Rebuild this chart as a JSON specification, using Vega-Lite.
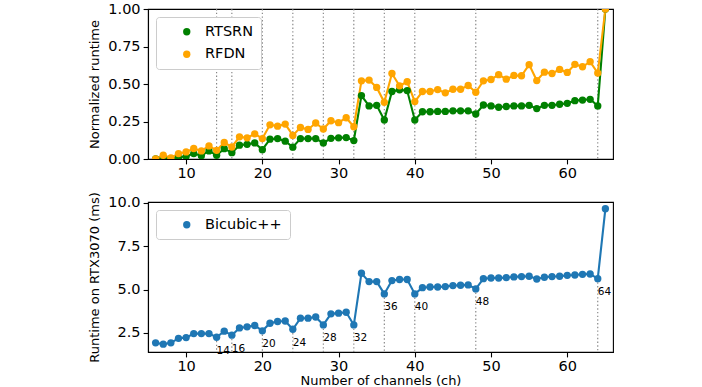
{
  "$schema": "https://vega.github.io/schema/vega-lite/v6.json",
  "padding": {"left": 88, "top": 0, "right": 0, "bottom": 0},
  "background": "white",
  "config": {
    "font": "DejaVu Sans",
    "view": {"stroke": "black", "strokeWidth": 1.1},
    "axis": {
      "grid": false,
      "domainColor": "black",
      "domainWidth": 1.1,
      "tickColor": "black",
      "tickWidth": 1.1,
      "tickSize": 4.9,
      "labelFont": "DejaVu Sans",
      "labelFontSize": 14.5,
      "labelColor": "black",
      "labelPadding": 3,
      "labelOverlap": false,
      "titleFont": "DejaVu Sans",
      "titleFontSize": 13,
      "titleFontWeight": "normal",
      "titleColor": "black",
      "titleLimit": 600
    },
    "legend": {
      "labelFont": "DejaVu Sans",
      "labelFontSize": 14.5,
      "labelColor": "black",
      "fillColor": "white",
      "strokeColor": "#cccccc",
      "cornerRadius": 3,
      "padding": 7.5,
      "symbolType": "circle",
      "symbolSize": 54,
      "symbolStrokeWidth": 0,
      "symbolOffset": 16,
      "labelOffset": 11,
      "rowPadding": 7.5
    }
  },
  "datasets": {
    "marks": [{"ch": 14}, {"ch": 16}, {"ch": 20}, {"ch": 24}, {"ch": 28}, {"ch": 32}, {"ch": 36}, {"ch": 40}, {"ch": 48}, {"ch": 64}],
    "top": [
      {"ch": 6, "model": "RTSRN", "runtime": 0.0},
      {"ch": 7, "model": "RTSRN", "runtime": 0.003},
      {"ch": 8, "model": "RTSRN", "runtime": 0.0},
      {"ch": 9, "model": "RTSRN", "runtime": 0.01},
      {"ch": 10, "model": "RTSRN", "runtime": 0.018},
      {"ch": 11, "model": "RTSRN", "runtime": 0.036},
      {"ch": 12, "model": "RTSRN", "runtime": 0.022},
      {"ch": 13, "model": "RTSRN", "runtime": 0.054},
      {"ch": 14, "model": "RTSRN", "runtime": 0.025},
      {"ch": 15, "model": "RTSRN", "runtime": 0.069},
      {"ch": 16, "model": "RTSRN", "runtime": 0.042},
      {"ch": 17, "model": "RTSRN", "runtime": 0.092},
      {"ch": 18, "model": "RTSRN", "runtime": 0.098},
      {"ch": 19, "model": "RTSRN", "runtime": 0.107},
      {"ch": 20, "model": "RTSRN", "runtime": 0.062},
      {"ch": 21, "model": "RTSRN", "runtime": 0.132},
      {"ch": 22, "model": "RTSRN", "runtime": 0.136},
      {"ch": 23, "model": "RTSRN", "runtime": 0.119},
      {"ch": 24, "model": "RTSRN", "runtime": 0.079},
      {"ch": 25, "model": "RTSRN", "runtime": 0.136},
      {"ch": 26, "model": "RTSRN", "runtime": 0.136},
      {"ch": 27, "model": "RTSRN", "runtime": 0.136},
      {"ch": 28, "model": "RTSRN", "runtime": 0.107},
      {"ch": 29, "model": "RTSRN", "runtime": 0.138},
      {"ch": 30, "model": "RTSRN", "runtime": 0.141},
      {"ch": 31, "model": "RTSRN", "runtime": 0.143},
      {"ch": 32, "model": "RTSRN", "runtime": 0.123},
      {"ch": 33, "model": "RTSRN", "runtime": 0.423},
      {"ch": 34, "model": "RTSRN", "runtime": 0.354},
      {"ch": 35, "model": "RTSRN", "runtime": 0.358},
      {"ch": 36, "model": "RTSRN", "runtime": 0.26},
      {"ch": 37, "model": "RTSRN", "runtime": 0.45},
      {"ch": 38, "model": "RTSRN", "runtime": 0.461},
      {"ch": 39, "model": "RTSRN", "runtime": 0.456},
      {"ch": 40, "model": "RTSRN", "runtime": 0.26},
      {"ch": 41, "model": "RTSRN", "runtime": 0.315},
      {"ch": 42, "model": "RTSRN", "runtime": 0.315},
      {"ch": 43, "model": "RTSRN", "runtime": 0.317},
      {"ch": 44, "model": "RTSRN", "runtime": 0.317},
      {"ch": 45, "model": "RTSRN", "runtime": 0.321},
      {"ch": 46, "model": "RTSRN", "runtime": 0.321},
      {"ch": 47, "model": "RTSRN", "runtime": 0.321},
      {"ch": 48, "model": "RTSRN", "runtime": 0.3},
      {"ch": 49, "model": "RTSRN", "runtime": 0.36},
      {"ch": 50, "model": "RTSRN", "runtime": 0.354},
      {"ch": 51, "model": "RTSRN", "runtime": 0.345},
      {"ch": 52, "model": "RTSRN", "runtime": 0.35},
      {"ch": 53, "model": "RTSRN", "runtime": 0.354},
      {"ch": 54, "model": "RTSRN", "runtime": 0.354},
      {"ch": 55, "model": "RTSRN", "runtime": 0.358},
      {"ch": 56, "model": "RTSRN", "runtime": 0.336},
      {"ch": 57, "model": "RTSRN", "runtime": 0.358},
      {"ch": 58, "model": "RTSRN", "runtime": 0.358},
      {"ch": 59, "model": "RTSRN", "runtime": 0.365},
      {"ch": 60, "model": "RTSRN", "runtime": 0.371},
      {"ch": 61, "model": "RTSRN", "runtime": 0.389},
      {"ch": 62, "model": "RTSRN", "runtime": 0.393},
      {"ch": 63, "model": "RTSRN", "runtime": 0.398},
      {"ch": 64, "model": "RTSRN", "runtime": 0.354},
      {"ch": 65, "model": "RTSRN", "runtime": 1.0},
      {"ch": 6, "model": "RFDN", "runtime": 0.0},
      {"ch": 7, "model": "RFDN", "runtime": 0.025},
      {"ch": 8, "model": "RFDN", "runtime": 0.007},
      {"ch": 9, "model": "RFDN", "runtime": 0.036},
      {"ch": 10, "model": "RFDN", "runtime": 0.047},
      {"ch": 11, "model": "RFDN", "runtime": 0.07},
      {"ch": 12, "model": "RFDN", "runtime": 0.054},
      {"ch": 13, "model": "RFDN", "runtime": 0.087},
      {"ch": 14, "model": "RFDN", "runtime": 0.058},
      {"ch": 15, "model": "RFDN", "runtime": 0.11},
      {"ch": 16, "model": "RFDN", "runtime": 0.08},
      {"ch": 17, "model": "RFDN", "runtime": 0.148},
      {"ch": 18, "model": "RFDN", "runtime": 0.141},
      {"ch": 19, "model": "RFDN", "runtime": 0.168},
      {"ch": 20, "model": "RFDN", "runtime": 0.136},
      {"ch": 21, "model": "RFDN", "runtime": 0.228},
      {"ch": 22, "model": "RFDN", "runtime": 0.219},
      {"ch": 23, "model": "RFDN", "runtime": 0.233},
      {"ch": 24, "model": "RFDN", "runtime": 0.157},
      {"ch": 25, "model": "RFDN", "runtime": 0.21},
      {"ch": 26, "model": "RFDN", "runtime": 0.197},
      {"ch": 27, "model": "RFDN", "runtime": 0.24},
      {"ch": 28, "model": "RFDN", "runtime": 0.2},
      {"ch": 29, "model": "RFDN", "runtime": 0.255},
      {"ch": 30, "model": "RFDN", "runtime": 0.242},
      {"ch": 31, "model": "RFDN", "runtime": 0.275},
      {"ch": 32, "model": "RFDN", "runtime": 0.215},
      {"ch": 33, "model": "RFDN", "runtime": 0.521},
      {"ch": 34, "model": "RFDN", "runtime": 0.526},
      {"ch": 35, "model": "RFDN", "runtime": 0.477},
      {"ch": 36, "model": "RFDN", "runtime": 0.378},
      {"ch": 37, "model": "RFDN", "runtime": 0.57},
      {"ch": 38, "model": "RFDN", "runtime": 0.488},
      {"ch": 39, "model": "RFDN", "runtime": 0.515},
      {"ch": 40, "model": "RFDN", "runtime": 0.383},
      {"ch": 41, "model": "RFDN", "runtime": 0.45},
      {"ch": 42, "model": "RFDN", "runtime": 0.45},
      {"ch": 43, "model": "RFDN", "runtime": 0.463},
      {"ch": 44, "model": "RFDN", "runtime": 0.441},
      {"ch": 45, "model": "RFDN", "runtime": 0.465},
      {"ch": 46, "model": "RFDN", "runtime": 0.465},
      {"ch": 47, "model": "RFDN", "runtime": 0.49},
      {"ch": 48, "model": "RFDN", "runtime": 0.445},
      {"ch": 49, "model": "RFDN", "runtime": 0.521},
      {"ch": 50, "model": "RFDN", "runtime": 0.53},
      {"ch": 51, "model": "RFDN", "runtime": 0.562},
      {"ch": 52, "model": "RFDN", "runtime": 0.532},
      {"ch": 53, "model": "RFDN", "runtime": 0.557},
      {"ch": 54, "model": "RFDN", "runtime": 0.555},
      {"ch": 55, "model": "RFDN", "runtime": 0.629},
      {"ch": 56, "model": "RFDN", "runtime": 0.523},
      {"ch": 57, "model": "RFDN", "runtime": 0.579},
      {"ch": 58, "model": "RFDN", "runtime": 0.57},
      {"ch": 59, "model": "RFDN", "runtime": 0.597},
      {"ch": 60, "model": "RFDN", "runtime": 0.577},
      {"ch": 61, "model": "RFDN", "runtime": 0.631},
      {"ch": 62, "model": "RFDN", "runtime": 0.615},
      {"ch": 63, "model": "RFDN", "runtime": 0.649},
      {"ch": 64, "model": "RFDN", "runtime": 0.573},
      {"ch": 65, "model": "RFDN", "runtime": 1.0}
    ],
    "bottom": [
      {"ch": 6, "model": "Bicubic++", "runtime": 1.93}, {"ch": 7, "model": "Bicubic++", "runtime": 1.85},
      {"ch": 8, "model": "Bicubic++", "runtime": 1.93}, {"ch": 9, "model": "Bicubic++", "runtime": 2.19},
      {"ch": 10, "model": "Bicubic++", "runtime": 2.23}, {"ch": 11, "model": "Bicubic++", "runtime": 2.46},
      {"ch": 12, "model": "Bicubic++", "runtime": 2.46}, {"ch": 13, "model": "Bicubic++", "runtime": 2.46},
      {"ch": 14, "model": "Bicubic++", "runtime": 2.25}, {"ch": 15, "model": "Bicubic++", "runtime": 2.6},
      {"ch": 16, "model": "Bicubic++", "runtime": 2.37}, {"ch": 17, "model": "Bicubic++", "runtime": 2.79},
      {"ch": 18, "model": "Bicubic++", "runtime": 2.85}, {"ch": 19, "model": "Bicubic++", "runtime": 2.93},
      {"ch": 20, "model": "Bicubic++", "runtime": 2.62}, {"ch": 21, "model": "Bicubic++", "runtime": 3.06},
      {"ch": 22, "model": "Bicubic++", "runtime": 3.16}, {"ch": 23, "model": "Bicubic++", "runtime": 3.19},
      {"ch": 24, "model": "Bicubic++", "runtime": 2.71}, {"ch": 25, "model": "Bicubic++", "runtime": 3.35},
      {"ch": 26, "model": "Bicubic++", "runtime": 3.35}, {"ch": 27, "model": "Bicubic++", "runtime": 3.42},
      {"ch": 28, "model": "Bicubic++", "runtime": 2.96}, {"ch": 29, "model": "Bicubic++", "runtime": 3.6},
      {"ch": 30, "model": "Bicubic++", "runtime": 3.64}, {"ch": 31, "model": "Bicubic++", "runtime": 3.69},
      {"ch": 32, "model": "Bicubic++", "runtime": 2.96}, {"ch": 33, "model": "Bicubic++", "runtime": 5.94},
      {"ch": 34, "model": "Bicubic++", "runtime": 5.46}, {"ch": 35, "model": "Bicubic++", "runtime": 5.46},
      {"ch": 36, "model": "Bicubic++", "runtime": 4.75}, {"ch": 37, "model": "Bicubic++", "runtime": 5.52},
      {"ch": 38, "model": "Bicubic++", "runtime": 5.58}, {"ch": 39, "model": "Bicubic++", "runtime": 5.58},
      {"ch": 40, "model": "Bicubic++", "runtime": 4.75}, {"ch": 41, "model": "Bicubic++", "runtime": 5.11},
      {"ch": 42, "model": "Bicubic++", "runtime": 5.15}, {"ch": 43, "model": "Bicubic++", "runtime": 5.15},
      {"ch": 44, "model": "Bicubic++", "runtime": 5.17}, {"ch": 45, "model": "Bicubic++", "runtime": 5.23},
      {"ch": 46, "model": "Bicubic++", "runtime": 5.25}, {"ch": 47, "model": "Bicubic++", "runtime": 5.27},
      {"ch": 48, "model": "Bicubic++", "runtime": 5.04}, {"ch": 49, "model": "Bicubic++", "runtime": 5.63},
      {"ch": 50, "model": "Bicubic++", "runtime": 5.67}, {"ch": 51, "model": "Bicubic++", "runtime": 5.67},
      {"ch": 52, "model": "Bicubic++", "runtime": 5.69}, {"ch": 53, "model": "Bicubic++", "runtime": 5.73},
      {"ch": 54, "model": "Bicubic++", "runtime": 5.75}, {"ch": 55, "model": "Bicubic++", "runtime": 5.77},
      {"ch": 56, "model": "Bicubic++", "runtime": 5.61}, {"ch": 57, "model": "Bicubic++", "runtime": 5.71},
      {"ch": 58, "model": "Bicubic++", "runtime": 5.75}, {"ch": 59, "model": "Bicubic++", "runtime": 5.77},
      {"ch": 60, "model": "Bicubic++", "runtime": 5.82}, {"ch": 61, "model": "Bicubic++", "runtime": 5.84},
      {"ch": 62, "model": "Bicubic++", "runtime": 5.88}, {"ch": 63, "model": "Bicubic++", "runtime": 5.9},
      {"ch": 64, "model": "Bicubic++", "runtime": 5.63}, {"ch": 65, "model": "Bicubic++", "runtime": 9.66}
    ]
  },
  "bounds": "flush",
  "spacing": 43,
  "vconcat": [
    {
      "width": 465,
      "height": 150,
      "layer": [
        {
          "data": {"name": "marks"},
          "mark": {"type": "rule", "color": "#808080", "strokeWidth": 1.1, "strokeDash": [1.4, 2.3]},
          "encoding": {
            "x": {"field": "ch", "type": "quantitative", "scale": {"domain": [5, 66], "nice": false, "zero": false},
                  "axis": {"title": null, "values": [10, 20, 30, 40, 50, 60]}}
          }
        },
        {
          "data": {"name": "top"},
          "mark": {"type": "line", "strokeWidth": 2.1, "clip": true},
          "encoding": {
            "x": {"field": "ch", "type": "quantitative"},
            "y": {"field": "runtime", "type": "quantitative", "scale": {"domain": [0, 1], "nice": false},
                  "axis": {"title": "Normalized runtime", "values": [0, 0.25, 0.5, 0.75, 1], "format": ".2f", "labelOverlap": false, "titlePadding": 6}},
            "stroke": {"field": "model", "type": "nominal", "scale": {"domain": ["RFDN", "RTSRN"], "range": ["#ffa500", "#008000"]}, "legend": null}
          }
        },
        {
          "data": {"name": "top"},
          "mark": {"type": "circle", "size": 54, "opacity": 1, "clip": true},
          "encoding": {
            "x": {"field": "ch", "type": "quantitative"},
            "y": {"field": "runtime", "type": "quantitative", "axis": {"title": "Normalized runtime", "values": [0, 0.25, 0.5, 0.75, 1], "format": ".2f", "labelOverlap": false, "titlePadding": 6}},
            "color": {"field": "model", "type": "nominal", "scale": {"domain": ["RTSRN", "RFDN"], "range": ["#008000", "#ffa500"]},
                      "legend": {"title": null, "orient": "top-left", "offset": 7.5}}
          }
        }
      ]
    },
    {
      "width": 465,
      "height": 150,
      "layer": [
        {
          "data": {"name": "bottom"},
          "transform": [{"filter": "indexof([14, 16, 20, 24, 28, 32, 36, 40, 48, 64], datum.ch) >= 0"}],
          "mark": {"type": "rule", "color": "#808080", "strokeWidth": 1.1, "strokeDash": [1.4, 2.3]},
          "encoding": {
            "x": {"field": "ch", "type": "quantitative", "scale": {"domain": [5, 66], "nice": false, "zero": false},
                  "axis": {"title": "Number of channels (ch)", "values": [10, 20, 30, 40, 50, 60], "titlePadding": 1}},
            "y": {"field": "runtime", "type": "quantitative", "scale": {"domain": [1.4, 10.05], "nice": false, "zero": false},
                  "axis": {"title": "Runtime on RTX3070 (ms)", "values": [2.5, 5, 7.5, 10], "format": ".1f", "titlePadding": 6}},
            "y2": {"datum": 1.4}
          }
        },
        {
          "data": {"name": "bottom"},
          "mark": {"type": "line", "strokeWidth": 2.1, "clip": true, "color": "#1f77b4"},
          "encoding": {
            "x": {"field": "ch", "type": "quantitative"},
            "y": {"field": "runtime", "type": "quantitative"}
          }
        },
        {
          "data": {"name": "bottom"},
          "mark": {"type": "circle", "size": 54, "opacity": 1, "clip": true},
          "encoding": {
            "x": {"field": "ch", "type": "quantitative"},
            "y": {"field": "runtime", "type": "quantitative"},
            "color": {"field": "model", "type": "nominal", "scale": {"domain": ["Bicubic++"], "range": ["#1f77b4"]},
                      "legend": {"title": null, "orient": "top-left", "offset": 7.5}}
          }
        },
        {
          "data": {"name": "bottom"},
          "transform": [{"filter": "indexof([14, 16, 20, 24, 28, 32, 36, 40, 48, 64], datum.ch) >= 0"}],
          "mark": {"type": "text", "align": "left", "baseline": "middle", "dy": 13.5, "fontSize": 10.5, "color": "black", "font": "DejaVu Sans"},
          "encoding": {
            "x": {"field": "ch", "type": "quantitative"},
            "y": {"field": "runtime", "type": "quantitative"},
            "text": {"field": "ch", "type": "quantitative"}
          }
        }
      ]
    }
  ],
  "resolve": {"scale": {"color": "independent"}, "legend": {"color": "independent"}}
}
